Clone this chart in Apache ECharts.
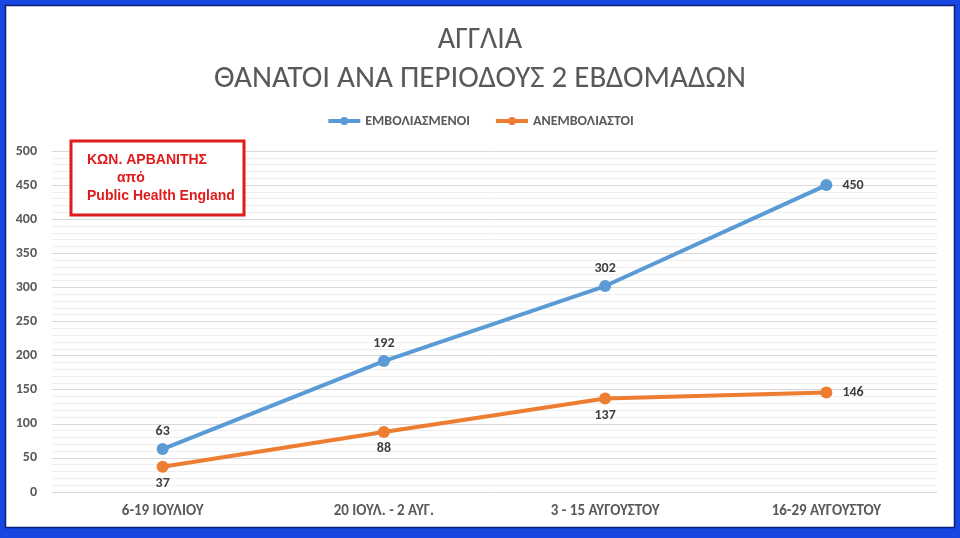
<!DOCTYPE html>
<html><head><meta charset="utf-8">
<script src="https://cdn.jsdelivr.net/npm/echarts@6/dist/echarts.min.js"></script>
<style>html,body{margin:0;padding:0;background:#fff}#c{width:960px;height:538px}</style>
</head><body><div id="c"></div>
<script>
const categories = ['6-19 ΙΟΥΛΙΟΥ', '20 ΙΟΥΛ. - 2 ΑΥΓ.', '3 - 15 ΑΥΓΟΥΣΤΟΥ', '16-29 ΑΥΓΟΥΣΤΟΥ'];
const vaccinated = [63, 192, 302, 450];
const unvaccinated = [37, 88, 137, 146];
const seriesNames = ['ΕΜΒΟΛΙΑΣΜΕΝΟΙ', 'ΑΝΕΜΒΟΛΙΑΣΤΟΙ'];
const titleLines = ['ΑΓΓΛΙΑ', 'ΘΑΝΑΤΟΙ ΑΝΑ ΠΕΡΙΟΔΟΥΣ 2 ΕΒΔΟΜΑΔΩΝ'];
const noteLines = ['ΚΩΝ. ΑΡΒΑΝΙΤΗΣ', 'από', 'Public Health England'];

const chart = echarts.init(document.getElementById('c'), null, {renderer: 'canvas'});
const font = 'Calibri, Carlito, "Open Sans", "Noto Sans", sans-serif';
const lastIdx = categories.length - 1;
const redFont = 'bold 14px "Liberation Sans", Arial, sans-serif';
function withLastRight(arr) {
  return arr.map((v, i) => i === lastIdx ? {value: v, label: {position: 'right', distance: 10}} : v);
}
chart.setOption({
  backgroundColor: '#1746e0',
  animation: false,
  textStyle: {fontFamily: font},
  title: [
    {text: titleLines[0], left: 'center', top: 20, textStyle: {fontSize: 30, fontWeight: 'normal', color: '#595959', fontFamily: font}},
    {text: titleLines[1], left: 'center', top: 59, textStyle: {fontSize: 31, fontWeight: 'normal', color: '#595959', fontFamily: font}}
  ],
  legend: {
    top: 109, left: 'center', itemGap: 24, itemWidth: 32, itemHeight: 10,
    textStyle: {fontSize: 14, color: '#595959', fontWeight: 'bold', fontFamily: font},
    lineStyle: {width: 4},
    data: seriesNames
  },
  grid: {left: 52, right: 23, top: 151, bottom: 46, containLabel: false},
  xAxis: {
    type: 'category', data: categories, boundaryGap: true,
    axisLine: {show: false}, axisTick: {show: false},
    axisLabel: {color: '#595959', fontSize: 15, fontWeight: 'bold', margin: 12, fontFamily: font}
  },
  yAxis: {
    type: 'value', min: 0, max: 500, interval: 50,
    axisLine: {show: false}, axisTick: {show: false},
    axisLabel: {color: '#595959', fontSize: 14, fontWeight: 'bold', margin: 15, fontFamily: font},
    splitLine: {lineStyle: {color: '#d9d9d9', width: 1}},
    minorTick: {show: false, splitNumber: 5},
    minorSplitLine: {show: true, lineStyle: {color: '#eeeeee', width: 1}}
  },
  series: [
    {
      name: seriesNames[0], type: 'line', data: withLastRight(vaccinated),
      symbol: 'circle', symbolSize: 12,
      lineStyle: {color: '#5b9bd5', width: 4}, itemStyle: {color: '#5b9bd5'},
      label: {show: true, position: 'top', distance: 5, color: '#404040', fontSize: 14, fontWeight: 'bold', fontFamily: font}
    },
    {
      name: seriesNames[1], type: 'line', data: withLastRight(unvaccinated),
      symbol: 'circle', symbolSize: 12,
      lineStyle: {color: '#ed7d31', width: 4}, itemStyle: {color: '#ed7d31'},
      label: {show: true, position: 'bottom', distance: 4, color: '#404040', fontSize: 14, fontWeight: 'bold', fontFamily: font}
    }
  ],
  graphic: [
    {type: 'rect', silent: true, z: -10,
     shape: {x: 5.5, y: 5.5, width: 949, height: 522},
     style: {fill: '#ffffff', stroke: '#0b1e78', lineWidth: 1.5}},
    {type: 'rect', silent: true, z: 50,
     shape: {x: 71, y: 141, width: 173, height: 74},
     style: {fill: '#ffffff', stroke: '#e01b1b', lineWidth: 3}},
    {type: 'text', x: 87, y: 153, z: 51, silent: true,
     style: {text: noteLines[0], fill: '#e01b1b', font: redFont}},
    {type: 'text', x: 117, y: 171, z: 51, silent: true,
     style: {text: noteLines[1], fill: '#e01b1b', font: redFont}},
    {type: 'text', x: 87, y: 189, z: 51, silent: true,
     style: {text: noteLines[2], fill: '#e01b1b', font: redFont}}
  ]
});
</script></body></html>
